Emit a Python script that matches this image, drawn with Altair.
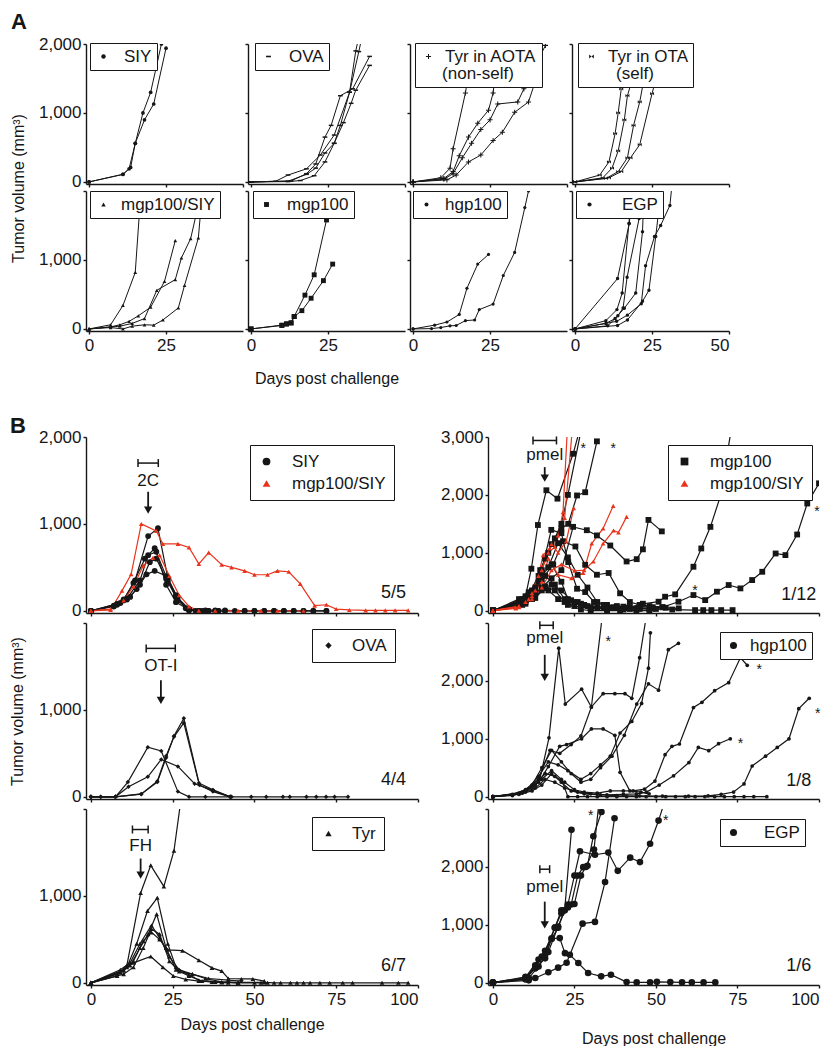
import altair as alt
import pandas as pd

FONT = "Liberation Sans"
INK = "#161616"
RED = "#e8341c"

# ---------------- Panel A : tumour volume curves, [day, volume] per mouse ----------------
A_SIY = [
    [[0, 0], [11, 110], [13, 190], [15, 560], [17.5, 1000], [20, 1300], [23.5, 2000]],
    [[0, 0], [11, 110], [13.5, 210], [15, 560], [18, 900], [21, 1130], [25, 1940]],
]
A_OVA = [
    [[0, 0], [8, 10], [12, 100], [18, 190], [22.5, 390], [27, 680], [32, 1300], [34, 1900], [35, 2100]],
    [[0, 0], [12, 5], [16, 20], [20.5, 90], [24, 290], [27, 560], [29, 820], [32, 1300], [35, 1890], [36, 2100]],
    [[0, 0], [12, 10], [18, 110], [21, 200], [24, 420], [27, 560], [30, 860], [32.5, 1140], [34, 1330], [38.5, 1690]],
    [[0, 0], [13, 15], [18, 120], [21, 260], [24, 650], [26, 820], [29, 1250], [33, 1350], [38.5, 1820]],
]
A_AOTA = [
    [[0, 0], [9, 60], [12, 200], [13, 480], [17, 1290], [20, 2100]],
    [[0, 0], [10, 50], [13, 150], [15, 380], [18, 650], [21, 850], [24.5, 1040], [26, 1290], [28, 2100]],
    [[0, 0], [10, 40], [13, 120], [16, 350], [19, 560], [22, 760], [25, 900], [27.5, 1130], [34, 1160], [36, 1350], [43, 1980]],
    [[0, 0], [11, 30], [14, 100], [18, 290], [22, 390], [26, 600], [29, 720], [33, 1010], [37.5, 1160], [40, 1500]],
]
A_OTA = [
    [[0, 0], [8, 100], [11, 290], [13, 700], [14, 1000], [15, 1350]],
    [[0, 0], [9, 60], [12, 200], [14, 450], [16, 900], [17, 1250], [18, 1400]],
    [[0, 0], [10, 50], [14, 150], [17, 350], [19, 820], [21, 1160], [22, 1400]],
    [[0, 0], [11, 60], [15, 150], [18, 350], [21, 540], [25, 1280], [26, 1450]],
]
A_MS = [
    [[0, 0], [7, 60], [11, 340], [15, 820], [17, 2100]],
    [[0, 0], [7, 30], [10, 60], [13, 110], [16, 190], [20, 315], [24.5, 690], [28, 1280]],
    [[0, 0], [10, 40], [14, 80], [18, 150], [22, 560], [28, 715], [30, 1030], [33, 1310], [35, 1700], [36, 2100]],
    [[0, 0], [7, 20], [11, 0], [14, 40], [18, 60], [21, 55], [24, 130], [29, 305], [31, 630], [35.5, 1320], [37, 2100]],
]
A_MGP = [
    [[0, 0], [10, 55], [11.5, 70], [13, 90], [14, 180], [17.5, 490], [20.5, 785], [24.5, 1580]],
    [[0, 0], [10, 50], [11.5, 75], [13, 85], [14, 180], [16.5, 265], [19.5, 445], [23.5, 700], [26.5, 940]],
]
A_HGP = [
    [[0, 0], [7, 55], [11, 100], [15, 210], [17.5, 590], [21, 940], [24.5, 1080]],
    [[0, 0], [6, 5], [9, 20], [12, 45], [14, 50], [17, 120], [20, 130], [21.5, 280], [26, 360], [29.3, 775], [33, 1110], [36.3, 1760], [37.5, 2000]],
]
A_EGP = [
    [[0, 0], [13.8, 730], [17.6, 1530], [19, 2100]],
    [[0, 0], [10, 120], [13.6, 280], [15.3, 520], [17.5, 1530], [18.5, 2100]],
    [[0, 0], [10.6, 45], [13.9, 190], [15.6, 305], [16.9, 750], [20.8, 1600], [21.5, 2100]],
    [[0, 0], [10, 80], [13, 150], [16, 300], [19.7, 520], [21.9, 1410], [22.5, 2100]],
    [[0, 0], [13.5, 110], [17, 200], [21.5, 365], [22.9, 915], [25.8, 1340], [27.8, 1500], [30.8, 1790], [31.5, 2100]],
    [[0, 0], [13.8, 50], [17, 130], [21.9, 400], [24, 560], [26.2, 1340], [27, 1650], [28, 2100]],
]

# ---------------- Panel B, left column ----------------
B_SIY = [
    [[0, 0], [7, 60], [10, 130], [13.5, 350], [17.5, 860], [20.5, 950], [23.5, 380], [26.5, 150], [30, 20], [33, 0], [35, 5], [38, 5], [41, 5], [47, 0], [50, 0], [53, 0], [56, 0], [59, 0], [62, 0], [65, 0], [68, 0], [72, 0]],
    [[0, 0], [7, 50], [10, 120], [13, 320], [16.5, 600], [19.5, 720], [23.5, 350], [26.5, 120], [30, 5], [33, 0], [36, 0], [39, 0], [44, 0], [47, 0], [50, 0], [53, 0], [56, 0], [59, 0], [62, 0], [65, 0], [68, 0], [72, 0]],
    [[0, 0], [8, 70], [11, 130], [14, 250], [17, 420], [19.5, 460], [23, 400], [26, 180], [29, 30], [32, 0], [35, 0], [38, 0], [41, 0]],
    [[0, 0], [8, 80], [11, 140], [15, 350], [17.5, 640], [20, 680], [23, 300], [26, 100], [30, 10], [33, 0], [36, 0], [39, 0]],
    [[0, 0], [9, 90], [12, 160], [15, 300], [18, 560], [20, 600], [23, 370], [26, 160], [30, 20], [34, 0], [38, 0]],
]
B_MS_LEFT = [
    [[0, 0], [6, 10], [9.5, 230], [12.3, 420], [15.4, 1000], [20, 920], [22, 770], [26.6, 770], [30, 730], [33, 540], [36, 670], [40, 530], [43, 500], [47, 460], [50, 415], [54, 415], [57, 460], [60.5, 450], [64, 310], [68.4, 60], [72, 70], [75, 20], [79, 10], [84, 5], [87, 5], [90, 5], [93, 5], [97, 5]],
    [[0, 0], [6, 20], [10, 120], [13, 280], [16, 520], [19, 610], [21, 640], [24, 400], [27, 180], [30, 50], [33, 0], [38, 0], [45, 0], [52, 0], [57, 0], [65, 0]],
]
B_OVA = [
    [[0, 0], [3, 0], [7.5, 0], [11.3, 170], [17.4, 570], [21.5, 527], [26.6, 60], [30, 0], [35, 0], [43, 0]],
    [[0, 0], [3, 0], [7.5, 0], [11.5, 115], [17.4, 230], [21.5, 430], [26.6, 350], [31.7, 150], [37.3, 77], [42.6, 0], [49, 0], [53.6, 0], [58.7, 0], [60.8, 0], [65.9, 0], [68.9, 0], [71.9, 0], [74.5, 0], [78.6, 0]],
    [[0, 0], [7.5, 0], [15.4, 33], [20.3, 170], [23, 450], [25.4, 700], [28.4, 903], [33.2, 135], [37.3, 60], [42.6, 0]],
    [[0, 0], [7.5, 0], [15.4, 30], [20.3, 180], [23, 470], [25.4, 690], [28.4, 850], [33, 160], [37.3, 80], [42.6, 0]],
]
B_TYR = [
    [[0, 0], [8, 80], [11, 200], [15.2, 1034], [18.3, 1352], [22.3, 1109], [25.4, 1520], [27.5, 2100]],
    [[0, 0], [8, 100], [11, 180], [14, 450], [17.3, 828], [20.3, 978], [23.5, 450], [26, 180], [30, 90], [33, 30], [37, 10], [42, 0]],
    [[0, 0], [9, 120], [12, 200], [15, 400], [17.5, 560], [20.1, 790], [23, 400], [26, 150], [30, 80], [34, 20], [40, 5], [45, 0]],
    [[0, 0], [9, 150], [12, 230], [15, 450], [18.5, 660], [21, 520], [24, 300], [27, 150], [31, 100], [36, 50], [42, 30], [46, 20]],
    [[0, 0], [10, 140], [13, 250], [16, 480], [18.5, 580], [21, 500], [23.5, 380], [28, 370], [33, 260], [37, 172], [40, 135], [42, 50], [46, 45], [49.5, 45], [53, 20]],
    [[0, 0], [10, 150], [13, 230], [18.3, 303], [22, 180], [25.2, 79], [29, 40], [33, 20], [38, 10], [45, 5], [53, 5], [56, 0], [58, 0], [61, 0], [63, 0], [65, 0], [67, 0], [70, 0], [73, 0], [77, 0], [80, 0], [89, 0], [94, 0], [97, 0]],
    [[0, 0], [10, 100], [13, 180], [16, 400], [18.5, 620], [21, 560], [24, 250], [27, 130], [31, 100], [35, 50], [40, 10], [45, 0], [50, 0], [52, 0], [54, 0]],
]

# ---------------- Panel B, right column ----------------
B_MGP = [
    [[0, 0], [8, 120], [10, 250], [11.8, 725], [13.8, 1480], [16.4, 2080], [19.8, 1935], [24.6, 2710], [26.5, 3100]],
    [[0, 0], [8, 150], [11, 280], [14, 600], [16, 900], [18, 1150], [21, 1420], [23.1, 1500], [25.8, 1990], [28.3, 2046], [31.9, 2925]],
    [[0, 0], [9, 200], [12, 350], [14.5, 700], [17, 1000], [19, 1250], [21, 1500], [23, 2000], [27, 3100]],
    [[0, 0], [9, 180], [12, 300], [15, 700], [17.9, 1396], [21, 1339], [23.1, 839], [25.8, 379], [28.3, 322], [31, 150], [34, 100], [37, 60], [41, 50], [45, 70], [49, 60], [53, 50], [57, 40]],
    [[0, 0], [8, 200], [11, 320], [14, 500], [17, 750], [20, 1167], [23, 920], [26, 620], [29, 400], [32, 150], [35, 100], [38, 80], [42, 60], [46, 120], [50.8, 155], [52.8, 241], [55.9, 282], [61.5, 759], [63.9, 1075], [66.7, 1448], [69.7, 1966], [73, 3100]],
    [[0, 0], [9, 150], [12, 250], [15, 400], [18, 560], [21, 700], [24.6, 1448], [28.8, 1390], [31.9, 1300], [36, 1126], [41, 850], [44.1, 890], [46, 1060], [47.7, 1568], [51.8, 1370]],
    [[0, 0], [9, 180], [12, 330], [15, 540], [18.5, 800], [21.5, 1200], [25.3, 1109], [28.3, 793], [31.9, 621], [35.5, 651], [39, 300], [42, 150], [45, 100], [48, 80], [52, 60]],
    [[0, 0], [10, 200], [13, 350], [16, 600], [19, 450], [22, 200], [25, 150], [28, 100], [32, 60], [36, 50], [40, 70], [44, 40], [48, 30], [52, 60], [56.9, 155], [61.5, 270], [65.1, 183], [68.7, 328], [72.3, 443], [75.9, 385], [79.5, 529], [82.6, 672], [86.7, 988], [89.7, 960], [93.3, 1316], [96.4, 1851], [100, 2200]],
    [[0, 0], [10, 150], [13, 300], [16, 420], [19, 350], [22, 150], [25, 80], [30, 40], [35, 30], [40, 20], [45, 30], [50, 30], [55, 20], [62, 10], [64.5, 10], [67, 10], [70, 10], [73.5, 10]],
    [[0, 0], [10, 180], [13, 400], [15, 650], [18, 800], [21, 500], [23, 200], [26, 150], [29, 80], [34, 60], [38, 60], [45, 50], [49, 40]],
    [[0, 0], [10, 120], [13, 220], [16, 400], [18, 450], [21, 350], [24, 180], [27, 120], [30, 60], [35, 40], [42, 30]],
    [[0, 0], [9, 100], [12, 200], [15, 350], [17, 350], [20, 200], [23, 100], [27, 20], [30, 0], [35, 0], [39, 0], [44, 0], [48, 0]],
]
B_MS_RIGHT = [
    [[0, 0], [7, 50], [10, 150], [13, 350], [15.4, 960], [17.4, 1075], [20, 1300], [21.5, 1700], [22.8, 3100]],
    [[0, 0], [7, 40], [11, 200], [14, 600], [17, 1000], [19, 1100], [22, 1600], [24.3, 3100]],
    [[0, 0], [8, 60], [12, 250], [15, 500], [17, 900], [20, 620], [24.1, 560], [27.7, 650], [30.3, 1160], [33.8, 1420], [36.9, 1810]],
    [[0, 0], [8, 80], [12, 300], [15, 700], [18, 1150], [20, 1000], [22.5, 1200], [24.8, 1770]],
    [[0, 0], [8, 70], [12, 200], [15, 400], [18, 700], [21, 800], [25, 690], [28, 700], [30.8, 850], [33.8, 1160], [37, 1385], [38.5, 1350], [41, 1620]],
]
B_HGP = [
    [[0, 0], [6, 20], [10, 80], [14.4, 305], [17.2, 1017], [20.2, 2565], [22.2, 1600], [27.2, 1857], [30.2, 1548], [33.5, 3100]],
    [[0, 0], [6, 30], [10, 100], [14, 250], [17, 520], [20.5, 870], [22.6, 900], [27.2, 1000], [30.2, 1170], [33.8, 1170], [37.4, 1060], [39, 420], [42, 100], [45.4, 80], [47.9, 50]],
    [[0, 0], [6, 40], [10, 120], [14, 300], [17.5, 800], [20.5, 750], [24, 900], [27, 1050], [30.2, 1550], [33.8, 1780], [37.4, 1780], [40.5, 1780], [42.6, 1700], [45, 2400], [47, 3100]],
    [[0, 0], [6, 30], [10, 100], [14, 350], [17, 600], [20, 550], [23, 450], [27, 300], [30, 400], [33, 550], [36, 700], [39, 1100], [42.6, 1300], [45.6, 1610], [47.7, 2220], [48.3, 2830]],
    [[0, 0], [8, 60], [12, 200], [15, 500], [18, 800], [21, 600], [24, 400], [27, 250], [30, 300], [33, 500], [36.5, 700], [40.3, 1060], [44.1, 1600], [47.7, 1950], [50.8, 1840], [53.8, 2540], [56.9, 2650]],
    [[0, 0], [9, 80], [13, 200], [16, 400], [19, 350], [22, 250], [25, 120], [28, 80], [32, 60], [36, 100], [40, 100], [43, 100], [46.5, 130], [49.7, 270], [52.8, 725], [54.9, 870], [57.2, 910], [61.5, 1540], [64.1, 1630], [68, 1830], [72.3, 1970], [75.9, 2400], [78, 2270]],
    [[0, 0], [9, 60], [13, 150], [16, 300], [19, 250], [22, 150], [26, 80], [30, 50], [35, 30], [40, 40], [44, 50], [47.1, 80], [51, 200], [55.4, 360], [60.1, 590], [63, 850], [66.2, 795], [69.2, 915], [72.8, 1000]],
    [[0, 0], [8, 50], [12, 150], [15, 300], [18, 450], [21, 300], [23, 0], [26, 0], [29, 0], [32, 0], [35, 0], [38, 0], [41, 0], [44, 0], [47, 0], [50, 0], [53, 0], [56, 0], [59, 0], [62, 0], [65, 0], [68, 0], [71, 0], [74, 0], [77, 0], [80, 0], [84, 0]],
    [[0, 0], [8, 40], [12, 100], [15, 200], [18, 400], [21, 250], [24, 100], [28, 50], [33, 30], [38, 20], [45, 15], [52, 10], [60, 10], [66, 15], [70, 40], [73.8, 80], [77, 220], [79.5, 530], [83.6, 700], [87.2, 850], [90.8, 1000], [93.8, 1520], [97, 1700]],
]
B_EGP = [
    [[0, 0], [10, 60], [13, 250], [16, 420], [18, 760], [20.5, 770], [22.1, 510], [23.6, 483], [26.2, 339], [29.2, 167], [33.2, 109], [36.2, 138], [41, 11], [44.1, 5], [48.2, 5], [50.3, 15], [54.4, 10], [58, 5], [61, 5], [64.6, 5], [68.2, 5]],
    [[0, 0], [10, 60], [13, 300], [15, 450], [18, 760], [20, 950], [22, 1250], [24.1, 2640]],
    [[0, 0], [10, 100], [13, 250], [16, 550], [19, 950], [21, 1250], [23, 1350], [25, 1850], [26.7, 2270], [31.3, 2210], [35.4, 2247], [38.3, 1932], [42.1, 2160], [45.1, 2083], [48.2, 2400], [50.8, 2800], [52.5, 3100]],
    [[0, 0], [11, 80], [14, 280], [17, 530], [20, 970], [22, 1250], [24, 1350], [26, 1850], [27.7, 1995], [29, 2020], [30.8, 2530], [33.3, 2950]],
    [[0, 0], [11, 40], [13, 80], [17, 180], [20, 260], [22.6, 345], [27.5, 1020], [31.3, 1050], [34.4, 1740], [37.3, 2840]],
    [[0, 0], [10, 90], [14, 400], [16, 480], [19, 950], [21, 1200], [23, 1300], [25, 1360], [27, 1850], [28.5, 2000], [31, 2300], [32.5, 3100]],
]

# annotations: bracket [start, end, level], label [text, day, level], arrow [day, top, tip]
NOTE_2C = {"bracket": [14.4, 20.6, 1700], "label": ["2C", 17.5, 1490], "arrow": [17.5, 1370, 1160], "count": ["5/5", 92.5, 200]}
NOTE_OT = {"bracket": [16.9, 25.8, 1708], "label": ["OT-I", 21.4, 1505], "arrow": [21.4, 1340, 1110], "count": ["4/4", 92.5, 195]}
NOTE_FH = {"bracket": [12.7, 17.5, 1764], "label": ["FH", 15.2, 1577], "arrow": [15.2, 1430, 1240], "count": ["6/7", 92.5, 195]}
NOTE_P1 = {"bracket": [12.3, 19.5, 2940], "label": ["pmel", 15.9, 2690], "arrow": [15.9, 2480, 2290], "count": ["1/12", 93.8, 275],
           "stars": [[27.7, 2868], [36.9, 2868], [62, 414], [99.4, 1770]]}
NOTE_P2 = {"bracket": [14.4, 18.5, 2960], "label": ["pmel", 15.9, 2734], "arrow": [15.9, 2450, 2060], "count": ["1/8", 93.8, 276],
           "stars": [[35.4, 2734], [81.7, 2254], [75.9, 972], [99.6, 1492]]}
NOTE_P3 = {"bracket": [14.4, 17.4, 1960], "label": ["pmel", 15.9, 1660], "arrow": [15.9, 1400, 1000], "count": ["1/6", 93.8, 280],
           "stars": [[30, 2953], [53, 2868]]}

SHAPE_DASH = "M-1,-0.32L1,-0.32L1,0.32L-1,0.32Z"
SHAPE_PLUS = "M-1,-0.2L-0.2,-0.2L-0.2,-1L0.2,-1L0.2,-0.2L1,-0.2L1,0.2L0.2,0.2L0.2,1L-0.2,1L-0.2,0.2L-1,0.2Z"
SHAPE_BOW = "M-1,-0.8L1,0.8L1,-0.8L-1,0.8Z"


def curves_df(curves, group):
    rows = []
    for i, c in enumerate(curves):
        for d, v in c:
            rows.append({"mouse": f"{group}-{i}", "day": d, "vol": v, "group": group})
    return pd.DataFrame(rows)


def S(curves, group, color, shape, size, lw=1.0):
    return {"curves": curves, "group": group, "color": color, "shape": shape, "size": size, "lw": lw}


def axis_x(vals, show, title=None, title_y=None):
    kw = dict(values=vals, labels=show, tickSize=3, grid=False, labelPadding=3)
    if title:
        kw.update(title=title, titleY=title_y, titleBaseline="alphabetic")
    else:
        kw["title"] = None
    return alt.Axis(**kw)


def axis_y(vals, show, top_label, title=None, title_xy=None):
    kw = dict(values=vals, labels=show, tickSize=3, grid=False, labelPadding=2,
              labelExpr=f"datum.value > {top_label} ? '' : format(datum.value, ',')")
    if title:
        kw.update(title=title, titleX=title_xy[0], titleY=title_xy[1], titleAngle=-90,
                  titleAlign="center", titleBaseline="middle")
    else:
        kw["title"] = None
    return alt.Axis(**kw)


def legend(x, y, sym, pad, offset, title=None):
    kw = dict(orient="none", legendX=x, legendY=y, symbolSize=sym, padding=pad, labelOffset=offset,
              strokeColor=INK, fillColor="white", labelFont=FONT, labelFontSize=17, labelColor=INK,
              rowPadding=4, symbolStrokeWidth=0)
    if title:
        kw.update(title=title, titleOrient="bottom", titleFont=FONT, titleFontSize=17,
                  titleFontWeight="normal", titleColor=INK, titlePadding=1, titleAnchor="middle")
    else:
        kw["title"] = None
    return alt.Legend(**kw)


def panel(series, xdom, ydom, w, h, xax, yax, leg, notes=None, letter=None):
    xs = alt.Scale(domain=xdom, nice=False, zero=False)
    ys = alt.Scale(domain=ydom, nice=False, zero=False)

    def X(f):
        return alt.X(f, type="quantitative", scale=xs, axis=xax)

    def Y(f):
        return alt.Y(f, type="quantitative", scale=ys, axis=yax)

    groups = [s["group"] for s in series]
    cscale = alt.Scale(domain=groups, range=[s["color"] for s in series])
    sscale = alt.Scale(domain=groups, range=[s["shape"] for s in series])
    layers = []
    for s in series:
        df = curves_df(s["curves"], s["group"])
        layers.append(alt.Chart(df).mark_line(color=s["color"], strokeWidth=s["lw"], clip=True)
                      .encode(x=X("day"), y=Y("vol"), detail="mouse:N"))
    for s in series:
        df = curves_df(s["curves"], s["group"])
        layers.append(alt.Chart(df).mark_point(filled=True, opacity=1, size=s["size"], clip=True)
                      .encode(x=X("day"), y=Y("vol"),
                              color=alt.Color("group:N", scale=cscale, legend=leg),
                              shape=alt.Shape("group:N", scale=sscale, legend=leg)))
    if notes:
        b = notes["bracket"]
        layers.append(alt.Chart(pd.DataFrame({"d0": [b[0]], "d1": [b[1]], "v": [b[2]]}))
                      .mark_rule(color=INK, strokeWidth=1.5)
                      .encode(x=X("d0"), x2=alt.X2("d1"), y=Y("v")))
        layers.append(alt.Chart(pd.DataFrame({"d": [b[0], b[1]], "v": [b[2], b[2]]}))
                      .mark_tick(orient="vertical", color=INK, size=8, thickness=1.5, opacity=1)
                      .encode(x=X("d"), y=Y("v")))
        lab = notes["label"]
        layers.append(alt.Chart(pd.DataFrame({"t": [lab[0]], "d": [lab[1]], "v": [lab[2]]}))
                      .mark_text(font=FONT, fontSize=17, color=INK, align="center", baseline="middle")
                      .encode(x=X("d"), y=Y("v"), text="t:N"))
        a = notes["arrow"]
        layers.append(alt.Chart(pd.DataFrame({"d": [a[0]], "v0": [a[1]], "v1": [a[2]]}))
                      .mark_rule(color=INK, strokeWidth=1.8)
                      .encode(x=X("d"), y=Y("v0"), y2=alt.Y2("v1")))
        layers.append(alt.Chart(pd.DataFrame({"d": [a[0]], "v": [a[2]]}))
                      .mark_point(shape="triangle-down", filled=True, size=70, color=INK, opacity=1)
                      .encode(x=X("d"), y=Y("v")))
        c = notes["count"]
        layers.append(alt.Chart(pd.DataFrame({"t": [c[0]], "d": [c[1]], "v": [c[2]]}))
                      .mark_text(font=FONT, fontSize=18, color=INK, align="center", baseline="middle")
                      .encode(x=X("d"), y=Y("v"), text="t:N"))
        if "stars" in notes:
            st = notes["stars"]
            layers.append(alt.Chart(pd.DataFrame({"d": [p[0] for p in st], "v": [p[1] for p in st]}))
                          .mark_text(text="*", font=FONT, fontSize=14, color=INK, align="center",
                                     baseline="middle", dy=4)
                          .encode(x=X("d"), y=Y("v")))
    if letter:
        layers.append(alt.Chart(pd.DataFrame({"t": [letter[0]]}))
                      .mark_text(font=FONT, fontSize=22, fontWeight="bold", color=INK,
                                 align="center", baseline="alphabetic")
                      .encode(x=alt.value(letter[1]), y=alt.value(letter[2]), text="t:N"))
    return alt.layer(*layers).properties(width=w, height=h)


def indep(c):
    return (c.resolve_scale(x="independent", y="independent", color="independent", shape="independent")
            .resolve_legend(color="independent", shape="independent")
            .resolve_axis(x="independent", y="independent"))


# ---------------- build panel A ----------------
XA, YA, WA, HA = [-1, 50], [-30, 2000], 157, 140
YT = "Tumor volume (mm³)"
XT = "Days post challenge"
A_top = [
    panel([S(A_SIY, "SIY", INK, "circle", 14)], XA, YA, WA, HA,
          axis_x([0, 25, 50], False), axis_y([0, 1000, 2000], True, 2000),
          legend(4, -1, 20, 5, 12), letter=["A", -67, -15]),
    panel([S(A_OVA, "OVA", INK, SHAPE_DASH, 22)], XA, YA, WA, HA,
          axis_x([0, 25, 50], False), axis_y([0, 1000, 2000], False, 2000),
          legend(7, -1, 24, 5, 12)),
    panel([S(A_AOTA, "Tyr in AOTA", INK, SHAPE_PLUS, 26)], XA, YA, WA, HA,
          axis_x([0, 25, 50], False), axis_y([0, 1000, 2000], False, 2000),
          legend(5, -1, 26, 5, 8, title="(non-self)")),
    panel([S(A_OTA, "Tyr in OTA", INK, SHAPE_BOW, 16)], XA, YA, WA, HA,
          axis_x([0, 25, 50], False), axis_y([0, 1000, 2000], False, 2000),
          legend(6, -1, 22, 5, 8, title="(self)")),
]
A_bottom = [
    panel([S(A_MS, "mgp100/SIY", INK, "triangle-up", 14)], XA, YA, WA, HA,
          axis_x([0, 25], True), axis_y([0, 1000, 2000], True, 1000, title=YT, title_xy=[-68, -3]),
          legend(4, 0, 20, 5, 9)),
    panel([S(A_MGP, "mgp100", INK, "square", 24)], XA, YA, WA, HA,
          axis_x([0, 25], True, title=XT, title_y=52), axis_y([0, 1000, 2000], False, 2000),
          legend(5, 0, 24, 5, 12)),
    panel([S(A_HGP, "hgp100", INK, "circle", 10)], XA, YA, WA, HA,
          axis_x([0, 25], True), axis_y([0, 1000, 2000], False, 2000),
          legend(3, 0, 16, 5, 10)),
    panel([S(A_EGP, "EGP", INK, "circle", 12)], XA, YA, WA, HA,
          axis_x([0, 25, 50], True), axis_y([0, 1000, 2000], False, 2000),
          legend(4, 0, 18, 5, 24)),
]
A_grid = indep(alt.concat(*(A_top + A_bottom), columns=4, spacing={"row": 7, "column": 5}, bounds="flush"))

# ---------------- build panel B ----------------
XB, WB, HB = [-1.5, 100], 332, 176
YBL, YBR = [-25, 2000], [-40, 3000]
XV = [0, 25, 50, 75, 100]
B_left = [
    panel([S(B_SIY, "SIY", INK, "circle", 34, 1.2), S(B_MS_LEFT, "mgp100/SIY", RED, "triangle-up", 22, 1.2)],
          XB, YBL, WB, HB, axis_x(XV, False), axis_y([0, 1000, 2000], True, 2000),
          legend(164, 8, 60, 8, 17), notes=NOTE_2C, letter=["B", -68, -4]),
    panel([S(B_OVA, "OVA", INK, "diamond", 20, 1.2)],
          XB, YBL, WB, HB, axis_x(XV, False), axis_y([0, 1000, 2000], True, 1000, title=YT, title_xy=[-69, 88]),
          legend(226, 6, 40, 8, 15), notes=NOTE_OT),
    panel([S(B_TYR, "Tyr", INK, "triangle-up", 22, 1.2)],
          XB, YBL, WB, HB, axis_x(XV, True, title=XT, title_y=44), axis_y([0, 1000, 2000], True, 1000),
          legend(226, 8, 40, 8, 15), notes=NOTE_FH),
]
B_right = [
    panel([S(B_MGP, "mgp100", INK, "square", 34, 1.2), S(B_MS_RIGHT, "mgp100/SIY", RED, "triangle-up", 22, 1.2)],
          XB, YBR, WB - 1, HB, axis_x(XV, False), axis_y([0, 1000, 2000, 3000], True, 3000),
          legend(180, 8, 60, 8, 17), notes=NOTE_P1),
    panel([S(B_HGP, "hgp100", INK, "circle", 14, 1.2)],
          XB, YBR, WB - 1, HB, axis_x(XV, False), axis_y([0, 1000, 2000, 3000], True, 2000),
          legend(232, 9, 50, 5, 8), notes=NOTE_P2),
    panel([S(B_EGP, "EGP", INK, "circle", 44, 1.2)],
          XB, YBR, WB - 1, HB, axis_x(XV, True, title=XT, title_y=58), axis_y([0, 1000, 2000, 3000], True, 2000),
          legend(232, 10, 50, 5, 22), notes=NOTE_P3),
]
B_block = indep(alt.hconcat(indep(alt.vconcat(*B_left, spacing=10, bounds="flush")),
                            indep(alt.vconcat(*B_right, spacing=10, bounds="flush")),
                            spacing=21, bounds="full"))

chart = (indep(alt.vconcat(A_grid, B_block, spacing=29, bounds="full"))
         .properties(padding={"left": 0, "top": 3, "right": 2, "bottom": 0})
         .configure_view(stroke=None)
         .configure_axis(labelFont=FONT, titleFont=FONT, labelFontSize=17, titleFontSize=16,
                         labelColor=INK, titleColor=INK, domainColor=INK, tickColor=INK,
                         domainWidth=1.4, tickWidth=1.4, titleFontWeight="normal"))

chart.save("out.html", embed_options={"renderer": "svg", "actions": False})
